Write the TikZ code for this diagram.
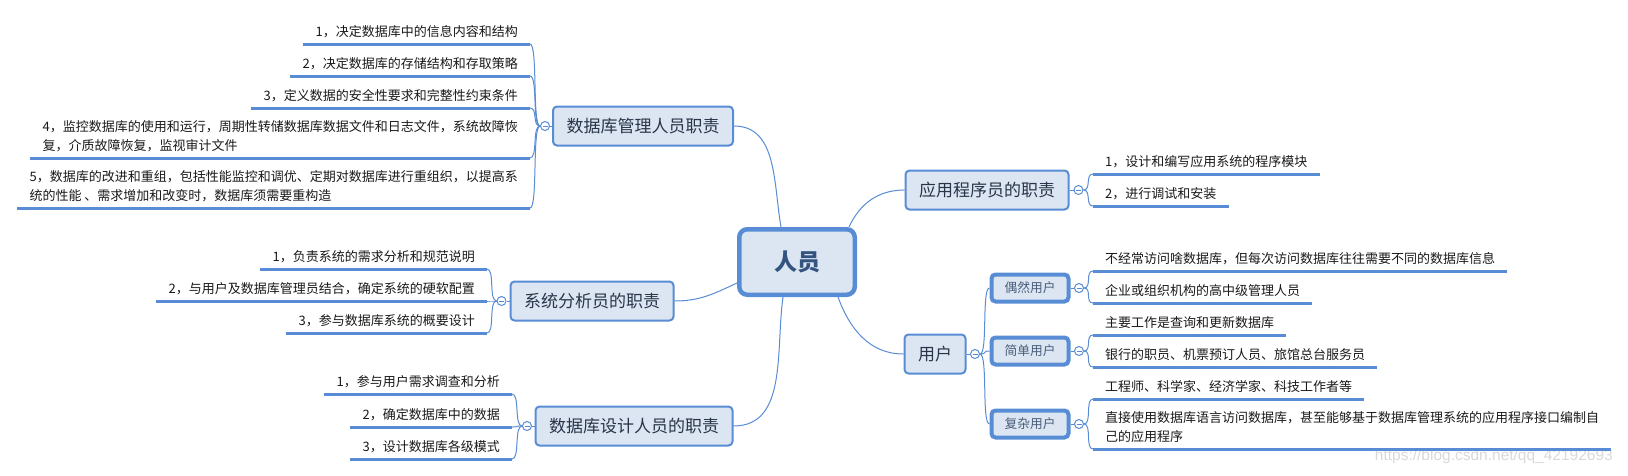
\documentclass[tikz,border=0pt]{standalone}
\usepackage{fontspec}
\setmainfont{Noto Sans CJK SC}
\newfontfamily\wmfont{Liberation Sans}
\usetikzlibrary{positioning}
\definecolor{mapblue}{RGB}{88,140,212}
\definecolor{mapfill}{RGB}{220,230,242}
\definecolor{maptext}{RGB}{40,52,72}
\definecolor{roottext}{RGB}{52,84,128}
\definecolor{subtext}{RGB}{72,92,122}
\tikzset{
  % boxes
  rootbox/.style={draw=mapblue,fill=mapfill,rounded corners=8pt,line width=4.5pt,minimum width=115.5pt,minimum height=65.5pt,inner sep=0pt,text=roottext,font=\fontsize{23pt}{27pt}\selectfont\bfseries},
  topic/.style={draw=mapblue,fill=mapfill,rounded corners=4pt,line width=2pt,minimum height=39pt,inner xsep=13.5pt,inner ysep=0pt,text=maptext,font=\fontsize{17pt}{20pt}\selectfont},
  subtopic/.style={draw=mapblue,fill=mapfill,rounded corners=4pt,line width=4pt,minimum height=27pt,inner xsep=13pt,inner ysep=0pt,text=subtext,font=\fontsize{12.75pt}{15pt}\selectfont},
  leaf/.style={inner xsep=12pt,inner ysep=3pt,text depth=4pt,align=left,text=black!90,font=\fontsize{13pt}{19pt}\selectfont},
  fold/.style={draw=mapblue,fill=white,circle,line width=1pt,minimum size=9pt,inner sep=0pt,
    path picture={\draw[mapblue,line width=1pt] ([xshift=-2.5pt]path picture bounding box.center) -- ([xshift=2.5pt]path picture bounding box.center);}},
  wmark/.style={text=black!15,font=\wmfont\fontsize{15.5pt}{18pt}\selectfont,inner sep=0pt},
  % lines
  link/.style={draw=mapblue,line width=1pt},
  uline/.style={draw=mapblue,line width=3pt},
}

\begin{document}
\begin{tikzpicture}[x=1pt,y=-1pt]
  \useasboundingbox (0,0) rectangle (1628,475);

  \node[rootbox] (root) at (797,262) {人员};
  \node[topic] (dba) at (643,126) {数据库管理人员职责};
  \node[topic] (sa) at (592,301) {系统分析员的职责};
  \node[topic] (dd) at (634,426) {数据库设计人员的职责};
  \node[topic] (ap) at (987,190) {应用程序员的职责};
  \node[topic] (user) at (935,354) {用户};
  \node[subtopic] (occ) at (1030,288) {偶然用户};
  \node[subtopic] (simp) at (1030,351) {简单用户};
  \node[subtopic] (comp) at (1030,424) {复杂用户};

  \node[fold,left=2pt of dba] (dba-f) {};
  \node[fold,left=3pt of sa] (sa-f) {};
  \node[fold,left=2.5pt of dd] (dd-f) {};
  \node[fold,right=4pt of ap] (ap-f) {};
  \node[fold,right=3.5pt of user] (user-f) {};
  \node[fold,right=3.5pt of occ] (occ-f) {};
  \node[fold,right=3.5pt of simp] (simp-f) {};
  \node[fold,right=3.5pt of comp] (comp-f) {};

  \node[leaf,anchor=south east] (dba1) at (530,44) {1，决定数据库中的信息内容和结构};
  \node[leaf,anchor=south east] (dba2) at (530,76) {2，决定数据库的存储结构和存取策略};
  \node[leaf,anchor=south east] (dba3) at (530,108) {3，定义数据的安全性要求和完整性约束条件};
  \node[leaf,anchor=south east] (dba4) at (530,158) {4，监控数据库的使用和运行，周期性转储数据库数据文件和日志文件，系统故障恢\\复，介质故障恢复，监视审计文件};
  \node[leaf,anchor=south east] (dba5) at (530,208) {5，数据库的改进和重组，包括性能监控和调优、定期对数据库进行重组织，以提高系\\统的性能 、需求增加和改变时，数据库须需要重构造};

  \node[leaf,anchor=south east] (sa1) at (487,269) {1，负责系统的需求分析和规范说明};
  \node[leaf,anchor=south east] (sa2) at (487,301) {2，与用户及数据库管理员结合，确定系统的硬软配置};
  \node[leaf,anchor=south east] (sa3) at (487,333) {3，参与数据库系统的概要设计};

  \node[leaf,anchor=south east] (dd1) at (512,394) {1，参与用户需求调查和分析};
  \node[leaf,anchor=south east] (dd2) at (512,427) {2，确定数据库中的数据};
  \node[leaf,anchor=south east] (dd3) at (512,459) {3，设计数据库各级模式};

  \node[leaf,anchor=south west] (ap1) at (1093,174) {1，设计和编写应用系统的程序模块};
  \node[leaf,anchor=south west] (ap2) at (1093,206) {2，进行调试和安装};

  \node[leaf,anchor=south west] (occ1) at (1093,271) {不经常访问啥数据库，但每次访问数据库往往需要不同的数据库信息};
  \node[leaf,anchor=south west] (occ2) at (1093,303) {企业或组织机构的高中级管理人员};
  \node[leaf,anchor=south west] (simp1) at (1093,335) {主要工作是查询和更新数据库};
  \node[leaf,anchor=south west] (simp2) at (1093,367) {银行的职员、机票预订人员、旅馆总台服务员};
  \node[leaf,anchor=south west] (comp1) at (1093,399) {工程师、科学家、经济学家、科技工作者等};
  \node[leaf,anchor=south west] (comp2) at (1093,449) {直接使用数据库语言访问数据库，甚至能够基于数据库管理系统的应用程序接口编制自\\己的应用程序};

  \node[wmark,anchor=east] (wm) at (1613,456) {https://blog.csdn.net/qq\_42192693};

  \draw[link] (dba.east) to[out=0,in=100] ([xshift=-16pt]root.north);
  \draw[link] ([xshift=52pt]root.north) to[out=65,in=180] (ap.west);
  \draw[link] (sa.east) to[out=0,in=205] ([yshift=-21pt]root.west);
  \draw[link] (dd.east) to[out=0,in=262] ([xshift=-14pt]root.south);
  \draw[link] ([xshift=41pt]root.south) to[out=290,in=180] (user.west);

  \foreach \n in {dba,sa,dd}
    \draw[link] (\n.west) -- (\n-f.east);
  \foreach \n in {ap,user,occ,simp,comp}
    \draw[link] (\n.east) -- (\n-f.west);

  \foreach \i in {1,...,5}
    \draw[link] (dba-f.west) .. controls +(-8,0) and +(8,0) .. (dba\i.south east);
  \foreach \i in {1,2,3} {
    \draw[link] (sa-f.west) .. controls +(-8,0) and +(8,0) .. (sa\i.south east);
    \draw[link] (dd-f.west) .. controls +(-8,0) and +(8,0) .. (dd\i.south east);
  }
  \foreach \n in {ap,occ,simp,comp} {
    \draw[link] (\n-f.east) .. controls +(8,0) and +(-8,0) .. (\n1.south west);
    \draw[link] (\n-f.east) .. controls +(8,0) and +(-8,0) .. (\n2.south west);
  }
  \foreach \n in {occ,simp,comp}
    \draw[link] (user-f.east) .. controls +(8,0) and +(-8,0) .. (\n.west);

  \foreach \n in {dba1,dba2,dba3,dba4,dba5,sa1,sa2,sa3,dd1,dd2,dd3,ap1,ap2,occ1,occ2,simp1,simp2,comp1,comp2}
    \draw[uline] (\n.south west) -- (\n.south east);
\end{tikzpicture}
\end{document}
